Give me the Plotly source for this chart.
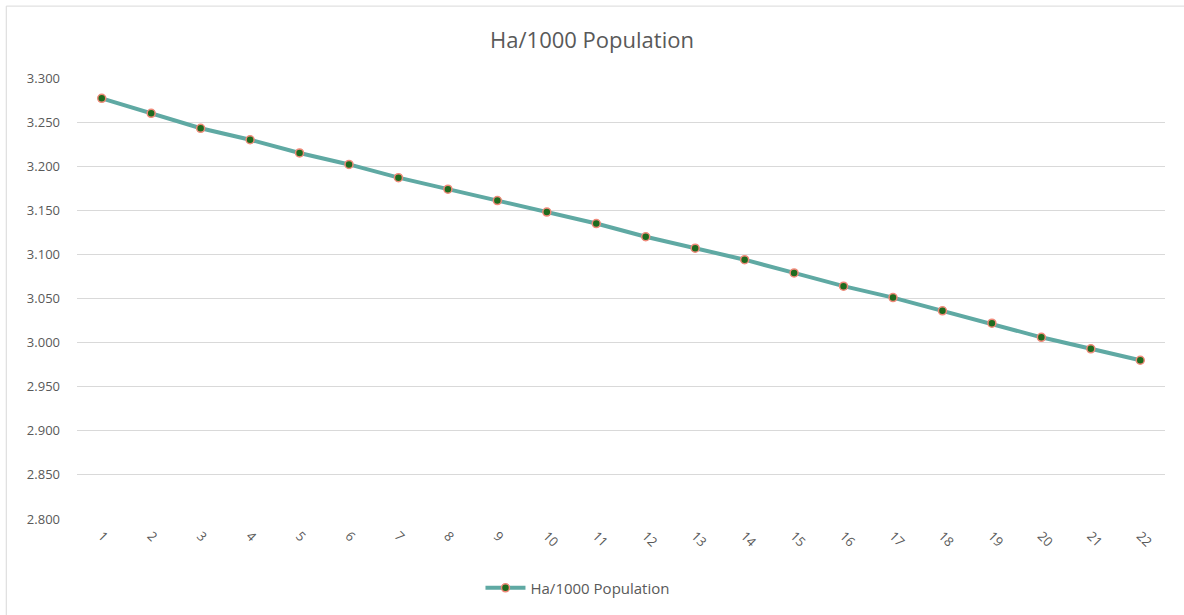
import plotly.graph_objects as go

# Hectares per 1000 population, by period
periods = [str(i) for i in range(1, 23)]
ha_per_1000 = [3.277, 3.260, 3.243, 3.230, 3.215, 3.202, 3.187, 3.174, 3.161, 3.148, 3.135,
               3.120, 3.107, 3.094, 3.079, 3.064, 3.051, 3.036, 3.022, 3.006, 2.993, 2.980]
y_ticks = [2.8, 2.85, 2.9, 2.95, 3.0, 3.05, 3.1, 3.15, 3.2, 3.25, 3.3]

FONT = "Open Sans, Liberation Sans, sans-serif"
TEXT_GRAY = "#595959"

fig = go.Figure()
fig.add_trace(go.Scatter(
    x=periods,
    y=ha_per_1000,
    mode="lines+markers",
    name="Ha/1000 Population",
    line=dict(color="#5fa9a3", width=4),
    marker=dict(size=8, color="#1e6b1e", line=dict(color="#f08a7a", width=1.5)),
))

fig.update_layout(
    width=1184,
    height=615,
    margin=dict(l=77, r=19, t=78, b=95),
    paper_bgcolor="white",
    plot_bgcolor="white",
    title=dict(text="Ha/1000 Population", x=0.5, xanchor="center", y=0.935, yanchor="middle",
               font=dict(family=FONT, size=22, color=TEXT_GRAY)),
    showlegend=True,
    legend=dict(orientation="h", x=0.46, xanchor="center", y=-0.154, yanchor="middle",
                font=dict(family=FONT, size=15, color=TEXT_GRAY), itemwidth=40),
    xaxis=dict(type="category", range=[-0.5, 21.5], tickangle=45, showgrid=False, showline=False,
               tickfont=dict(family=FONT, size=13, color=TEXT_GRAY), ticks="",
               ticklabelstandoff=6),
    yaxis=dict(range=[2.8, 3.3], tickvals=y_ticks, tickformat=".3f",
               showgrid=True, gridcolor="#d9d9d9", gridwidth=1, zeroline=False, showline=False,
               tickfont=dict(family=FONT, size=13, color=TEXT_GRAY), ticks="", ticklabelstandoff=16),
    shapes=[dict(type="rect", xref="paper", yref="paper", x0=-0.065, x1=1.05, y0=-0.3, y1=1.163,
                 line=dict(color="#d9d9d9", width=1), layer="below")],
)

fig.write_html("out.html")
